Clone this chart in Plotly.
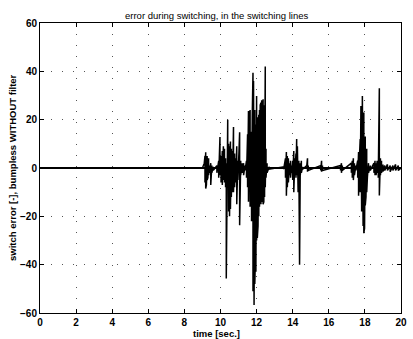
import plotly.graph_objects as go

# Switching error trace: for every sample time the error swings between a
# high and a low value (dense oscillation bursts around each switch).
spike_t = [
    0.00, 9.00,
    9.10, 9.14, 9.18, 9.22, 9.26, 9.30, 9.34, 9.40, 9.46, 9.52, 9.60, 9.70,
    9.80, 9.90, 9.97, 10.03, 10.10, 10.16, 10.22, 10.28, 10.32, 10.36, 10.40,
    10.45, 10.50, 10.55, 10.60, 10.66, 10.72, 10.78, 10.84, 10.90, 10.96,
    11.02, 11.06, 11.12, 11.20, 11.28, 11.36,
    11.44, 11.50, 11.55, 11.60, 11.64, 11.68, 11.72, 11.76, 11.80, 11.83,
    11.86, 11.90, 11.93, 11.96, 12.00, 12.04, 12.08, 12.12, 12.16, 12.20,
    12.24, 12.28, 12.32, 12.36, 12.40, 12.44, 12.48, 12.52, 12.58, 12.70,
    13.50, 13.60, 13.65, 13.70, 13.76, 13.82, 13.88, 13.94, 14.00, 14.06,
    14.12, 14.18, 14.22, 14.26, 14.30, 14.34, 14.38, 14.42, 14.48, 14.55,
    14.78, 14.82, 14.86, 15.55, 15.60, 15.65, 16.65, 16.70, 16.75,
    17.25, 17.30, 17.36, 17.42, 17.50,
    17.60, 17.65, 17.70, 17.74, 17.78, 17.82, 17.86, 17.90, 17.94, 17.98,
    18.02, 18.06, 18.10, 18.14, 18.20, 18.30, 18.50, 18.56, 18.62, 18.68,
    18.74, 18.80, 18.86, 18.92, 19.00, 19.10, 19.25, 19.40, 19.55, 19.70,
    19.85, 20.00,
]
spike_hi = [
    0, 0,
    2, 5, 6.5, 6, 5, 3, 4, 1, 2, 1, 0.5, 0,
    1, 3, 12.8, 5, 7, 9, 8, 4, 2, 6, 20,
    10, 9, 11, 8, 7, 17, 6, 4, 9, 3,
    6, 14.8, 3, 2, 2, 1,
    3, 14, 23.6, 20, 24, 12, 15, 22, 39.4, 36,
    28, 24, 20, 18, 29.8, 21, 18, 22, 24, 26,
    27, 28, 28, 28.4, 27, 26, 42, 8, 2, 0.5,
    0.5, 4, 6.6, 5, 4, 2, 3, 1, 3, 7,
    4, 6, 12, 9, 5, 3, 1, 2, 3, 0.5,
    1, 4, 1, 1, 3, 1, 1, 2, 1,
    2, 3, 4, 2, 1,
    3, 6.6, 5, 12, 25.6, 24, 29.8, 26, 23, 18,
    13, 10, 8, 6.6, 2, 1, 2, 3, 2, 3,
    2, 33, 4, 3, 1.5, 1, 1.5, 1, 1, 1.5,
    1, 0,
]
spike_lo = [
    0, 0,
    -3, -6, -8.5, -7, -5, -4, -3, -2, -7, -2, -1, 0,
    -2, -4, -3, -6, -7, -5, -6, -8, -45.7, -10, -8,
    -18, -20, -17, -12, -10, -10, -8, -6, -15, -5,
    -4, -23.7, -3, -2, -3, -1,
    -4, -8, -14, -12, -16, -10, -22, -30, -51, -45,
    -56.7, -48, -38, -42.9, -30, -29, -24, -20, -16, -14,
    -15, -14, -13, -15, -14, -12, -8, -4, -2, -0.5,
    -0.5, -4, -11.5, -8, -6, -3, -4, -2, -5, -10,
    -3, -4, -3, -6, -10, -4, -40, -3, -2, -0.5,
    -1, -1.5, -1, -1, -1.5, -1, -1, -2, -1,
    -2, -4, -5, -3, -1,
    -4, -11.5, -8, -10, -14, -18, -23.7, -24, -27, -25,
    -15.5, -12, -10, -3.6, -2, -1, -2, -3, -3, -2,
    -4, -11.4, -3, -2, -1.5, -1, -1, -1.5, -1, -1,
    -1, 0,
]

x_ticks = [0, 2, 4, 6, 8, 10, 12, 14, 16, 18, 20]
y_ticks = [-60, -40, -20, 0, 20, 40, 60]

# Interleave each sample's high and low value into one continuous line.
xs, ys = [], []
for t, hi, lo in zip(spike_t, spike_hi, spike_lo):
    xs += [t, t]
    ys += [hi, lo]

FONT = "Liberation Sans, Arial, sans-serif"

fig = go.Figure()
fig.add_trace(go.Scatter(
    x=xs, y=ys, mode="lines",
    line=dict(color="black", width=1.5),
    hoverinfo="skip", showlegend=False,
))

axis_common = dict(
    showline=True, linecolor="black", linewidth=1, mirror="ticks",
    ticks="inside", ticklen=4, tickcolor="black", tickwidth=1,
    showgrid=True, gridcolor="#555", gridwidth=1, griddash="1px,10px",
    tickfont=dict(family=FONT, size=10, color="black", weight="bold"),
)

fig.update_layout(
    width=413, height=339,
    margin=dict(l=40, r=6, t=23, b=26),
    paper_bgcolor="white", plot_bgcolor="white",
    xaxis=dict(range=[0, 20], tickvals=x_ticks, zeroline=False, **axis_common),
    yaxis=dict(range=[-60, 60], tickvals=y_ticks, zeroline=True,
               zerolinecolor="black", zerolinewidth=2, **axis_common),
    annotations=[
        dict(text="error during switching, in the switching lines",
             xref="paper", yref="paper", x=0.49, y=1.0, yshift=8,
             xanchor="center", yanchor="middle", showarrow=False,
             font=dict(family=FONT, size=9.5, color="black")),
        dict(text="time [sec.]", xref="paper", yref="paper",
             x=0.49, y=0, yshift=-20, xanchor="center", yanchor="middle",
             showarrow=False,
             font=dict(family=FONT, size=9.5, color="black", weight="bold")),
        dict(text="switch error [-], bumpless WITHOUT filter",
             xref="paper", yref="paper", x=0, xshift=-28, y=0.5,
             xanchor="center", yanchor="middle", textangle=-90,
             showarrow=False,
             font=dict(family=FONT, size=9.5, color="black", weight="bold")),
    ],
)

fig.write_html("out.html")
